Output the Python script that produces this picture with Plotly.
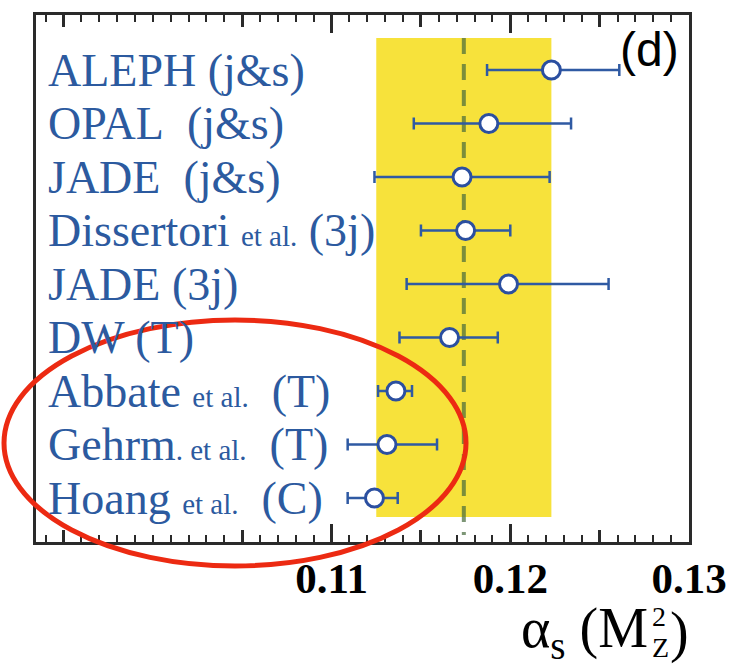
import plotly.graph_objects as go

# ---------------- data ----------------
labels = [
    "ALEPH (j&amp;s)",
    "OPAL&nbsp; (j&amp;s)",
    "JADE&nbsp; (j&amp;s)",
    "Dissertori <span style='font-size:29px'>et al.</span> (3j)",
    "JADE (3j)",
    "DW (T)",
    "Abbate <span style='font-size:29px'>et al.</span>&nbsp; (T)",
    "Gehrm<span style='font-size:29px'>. et al.</span>&nbsp; (T)",
    "Hoang <span style='font-size:29px'>et al.</span>&nbsp; (C)",
]
alpha_s = [0.1223, 0.1188, 0.1173, 0.1175, 0.1199, 0.1166, 0.1136, 0.1131, 0.1124]
lower   = [0.1187, 0.1146, 0.1124, 0.1150, 0.1142, 0.1138, 0.1126, 0.1109, 0.1109]
upper   = [0.1261, 0.1234, 0.1222, 0.1200, 0.1255, 0.1193, 0.1145, 0.1159, 0.1137]
rows = list(range(len(labels)))

band_lo, band_hi = 0.1125, 0.1223
world_avg = 0.1174
x_ticks = [0.11, 0.12, 0.13]
x_tick_text = ["0.11", "0.12", "0.13"]
mid_ticks = [0.095, 0.105, 0.115, 0.125]
x_range = [0.09346, 0.13]

# ---------------- geometry helpers ----------------
W, H = 730, 670
L, R, T, B = 36, 689, 15, 542
def px(x):
    return (x - L) / (R - L)
def py(y):
    return (B - y) / (B - T)

BLUE = "#2f5aa3"
TXT_BLUE = "#2c5a9f"
FRAME = "#2a2a2a"

err_plus = [u - a for u, a in zip(upper, alpha_s)]
err_minus = [a - l for a, l in zip(alpha_s, lower)]

fig = go.Figure()
fig.add_trace(go.Scatter(
    x=alpha_s, y=rows, mode="markers",
    marker=dict(symbol="circle", size=18, color="white",
                line=dict(color="#2b4fa0", width=3)),
    error_x=dict(type="data", symmetric=False, array=err_plus,
                 arrayminus=err_minus, color=BLUE, thickness=2.5, width=6),
    showlegend=False, hoverinfo="skip",
))
# dummy trace for secondary tick axis
fig.add_trace(go.Scatter(x=[None], y=[None], xaxis="x2", showlegend=False))

# yellow band & dashed average line
fig.add_shape(type="rect", xref="x", yref="y", x0=band_lo, x1=band_hi,
              y0=-0.598, y1=8.355, fillcolor="#f7e23b", line_width=0, layer="below")
fig.add_shape(type="line", xref="x", yref="y", x0=world_avg, x1=world_avg,
              y0=-0.598, y1=8.69, line=dict(color="rgba(70,105,60,0.7)", width=4, dash="16px,10px"),
              layer="below")

# row labels
for r, t in zip(rows, labels):
    fig.add_annotation(x=px(46), xref="paper", y=r, yref="y", text=t,
                       xanchor="left", yanchor="middle", showarrow=False,
                       font=dict(family="Liberation Serif", size=46, color=TXT_BLUE))

# panel tag
fig.add_annotation(x=px(649), y=py(49), xref="paper", yref="paper", text="(d)",
                   showarrow=False, xanchor="center", yanchor="middle",
                   font=dict(family="Liberation Sans", size=48, color="black"))

# axis title pieces
tf = dict(family="Liberation Serif", size=56, color="black")
fig.add_annotation(x=px(649), y=py(632), xref="paper", yref="paper",
                   text="α<sub>s</sub> (M", showarrow=False, xanchor="right",
                   yanchor="middle", font=tf, borderpad=0)
fig.add_annotation(x=px(651), y=py(616), xref="paper", yref="paper", text="2",
                   showarrow=False, xanchor="left", yanchor="middle", borderpad=0,
                   font=dict(family="Liberation Serif", size=28, color="black"))
fig.add_annotation(x=px(651), y=py(647), xref="paper", yref="paper", text="Z",
                   showarrow=False, xanchor="left", yanchor="middle", borderpad=0,
                   font=dict(family="Liberation Serif", size=28, color="black"))
fig.add_annotation(x=px(669), y=py(632), xref="paper", yref="paper", text=")",
                   showarrow=False, xanchor="left", yanchor="middle", font=tf, borderpad=0)

# red hand-drawn ellipse
fig.add_shape(type="circle", xref="paper", yref="paper",
              x0=px(4), x1=px(466), y0=py(566), y1=py(320),
              line=dict(color="#ec2a12", width=5), layer="above")

fig.update_layout(
    width=W, height=H,
    margin=dict(l=L, r=W - R, t=T, b=H - B, autoexpand=False),
    paper_bgcolor="white", plot_bgcolor="white",
    xaxis=dict(range=x_range, tickvals=x_ticks, ticktext=x_tick_text,
               ticks="inside", ticklen=18, tickwidth=3, tickcolor=FRAME,
               showline=True, linecolor=FRAME, linewidth=3, mirror="ticks",
               showgrid=False, zeroline=False, ticklabelstandoff=-4,
               automargin=False,
               tickfont=dict(family="Liberation Serif", size=43, color="black", weight="bold"),
               minor=dict(dtick=0.001, tick0=0.11, ticks="inside", ticklen=7,
                          tickwidth=2, tickcolor=FRAME, showgrid=False)),
    xaxis2=dict(range=x_range, overlaying="x", side="bottom",
                tickvals=mid_ticks, ticks="inside", ticklen=12, tickwidth=2.5,
                tickcolor=FRAME, showticklabels=False, showgrid=False,
                zeroline=False, mirror="ticks", showline=False, automargin=False),
    yaxis=dict(range=[8.822, -1.028], showticklabels=False, ticks="",
               showline=True, linecolor=FRAME, linewidth=3, mirror=True,
               showgrid=False, zeroline=False, automargin=False),
)

fig.write_html("out.html")
